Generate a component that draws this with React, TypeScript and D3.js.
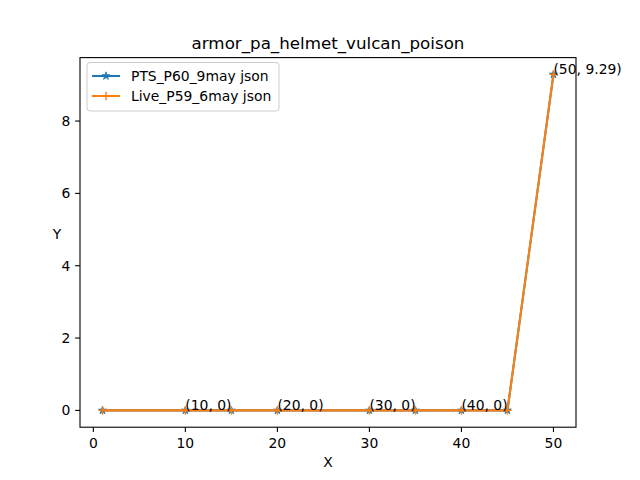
import React from "react";
import * as d3 from "d3";

const xValues = [1, 10, 15, 20, 30, 35, 40, 45, 50];
const ptsValues = [0, 0, 0, 0, 0, 0, 0, 0, 9.29];
const liveValues = [0, 0, 0, 0, 0, 0, 0, 0, 9.29];
const annotations = [
  { x: 10, y: 0, label: "(10, 0)" },
  { x: 20, y: 0, label: "(20, 0)" },
  { x: 30, y: 0, label: "(30, 0)" },
  { x: 40, y: 0, label: "(40, 0)" },
  { x: 50, y: 9.29, label: "(50, 9.29)" },
];
const xTicks = [0, 10, 20, 30, 40, 50];
const yTicks = [0, 2, 4, 6, 8];
const seriesNames = ["PTS_P60_9may json", "Live_P59_6may json"];

const W = 640, H = 480;
const left = 80, right = 576, top = 57.6, bottom = 427.2;
const font = "DejaVu Sans, sans-serif";
const blue = "#1f77b4", orange = "#ff7f0e";

function starPath(cx: number, cy: number, r: number) {
  const pts: string[] = [];
  const inner = r * 0.381966;
  for (let i = 0; i < 10; i++) {
    const rr = i % 2 === 0 ? r : inner;
    const a = -Math.PI / 2 + (i * Math.PI) / 5;
    pts.push(`${cx + rr * Math.cos(a)},${cy + rr * Math.sin(a)}`);
  }
  return `M${pts.join("L")}Z`;
}

export default function App() {
  const xmin = d3.min(xValues)!, xmax = d3.max(xValues)!;
  const allY = [...ptsValues, ...liveValues];
  const ymin = d3.min(allY)!, ymax = d3.max(allY)!;
  const xm = (xmax - xmin) * 0.05, ym = (ymax - ymin) * 0.05;
  const x = d3.scaleLinear().domain([xmin - xm, xmax + xm]).range([left, right]);
  const y = d3.scaleLinear().domain([ymin - ym, ymax + ym]).range([bottom, top]);
  const line = d3.line<number>().x((_, i) => x(xValues[i])).y((d) => y(d));
  const ms = 6 * 100 / 72 / 2; // marker radius

  return (
    <svg width={W} height={H} style={{ position: "absolute", left: 0, top: 0 }} fontFamily={font}>
      <rect x={0} y={0} width={W} height={H} fill="white" />
      <path d={line(ptsValues)!} fill="none" stroke={blue} strokeWidth={2.08} />
      {ptsValues.map((v, i) => (
        <path key={"s" + i} d={starPath(x(xValues[i]), y(v), ms)} fill={blue} stroke={blue} strokeWidth={0.8} />
      ))}
      <path d={line(liveValues)!} fill="none" stroke={orange} strokeWidth={2.08} />
      {liveValues.map((v, i) => (
        <g key={"p" + i} stroke={orange} strokeWidth={1.4}>
          <line x1={x(xValues[i]) - ms} x2={x(xValues[i]) + ms} y1={y(v)} y2={y(v)} />
          <line x1={x(xValues[i])} x2={x(xValues[i])} y1={y(v) - ms} y2={y(v) + ms} />
        </g>
      ))}
      {annotations.map((a, i) => (
        <text key={"a" + i} x={x(a.x)} y={y(a.y)} fontSize={13.9} fill="black">{a.label}</text>
      ))}
      <rect x={left} y={top} width={right - left} height={bottom - top} fill="none" stroke="black" strokeWidth={1.1} />
      {xTicks.map((t) => (
        <g key={"x" + t}>
          <line x1={x(t)} x2={x(t)} y1={bottom} y2={bottom + 4.86} stroke="black" strokeWidth={1.1} />
          <text x={x(t)} y={bottom + 4.86 + 4.86 + 11} fontSize={13.9} textAnchor="middle">{t}</text>
        </g>
      ))}
      {yTicks.map((t) => (
        <g key={"y" + t}>
          <line x1={left - 4.86} x2={left} y1={y(t)} y2={y(t)} stroke="black" strokeWidth={1.1} />
          <text x={left - 4.86 - 4.86} y={y(t)} dy="0.35em" fontSize={13.9} textAnchor="end">{t}</text>
        </g>
      ))}
      <text x={(left + right) / 2} y={49} fontSize={16.7} textAnchor="middle">armor_pa_helmet_vulcan_poison</text>
      <text x={(left + right) / 2} y={467} fontSize={13.9} textAnchor="middle">X</text>
      <text x={57} y={239} fontSize={13.9} textAnchor="middle">Y</text>
      <g>
        <rect x={87} y={62.5} width={192} height={48.5} rx={3} fill="white" fillOpacity={0.8} stroke="#cccccc" strokeWidth={1} />
        {seriesNames.map((n, i) => {
          const cy = 76 + i * 20;
          const c = i === 0 ? blue : orange;
          return (
            <g key={n}>
              <line x1={92} x2={120} y1={cy} y2={cy} stroke={c} strokeWidth={2.08} />
              {i === 0 ? (
                <path d={starPath(106, cy, ms)} fill={c} stroke={c} strokeWidth={0.8} />
              ) : (
                <g stroke={c} strokeWidth={1.4}>
                  <line x1={106 - ms} x2={106 + ms} y1={cy} y2={cy} />
                  <line x1={106} x2={106} y1={cy - ms} y2={cy + ms} />
                </g>
              )}
              <text x={131} y={cy} dy="0.35em" fontSize={13.9}>{n}</text>
            </g>
          );
        })}
      </g>
    </svg>
  );
}
